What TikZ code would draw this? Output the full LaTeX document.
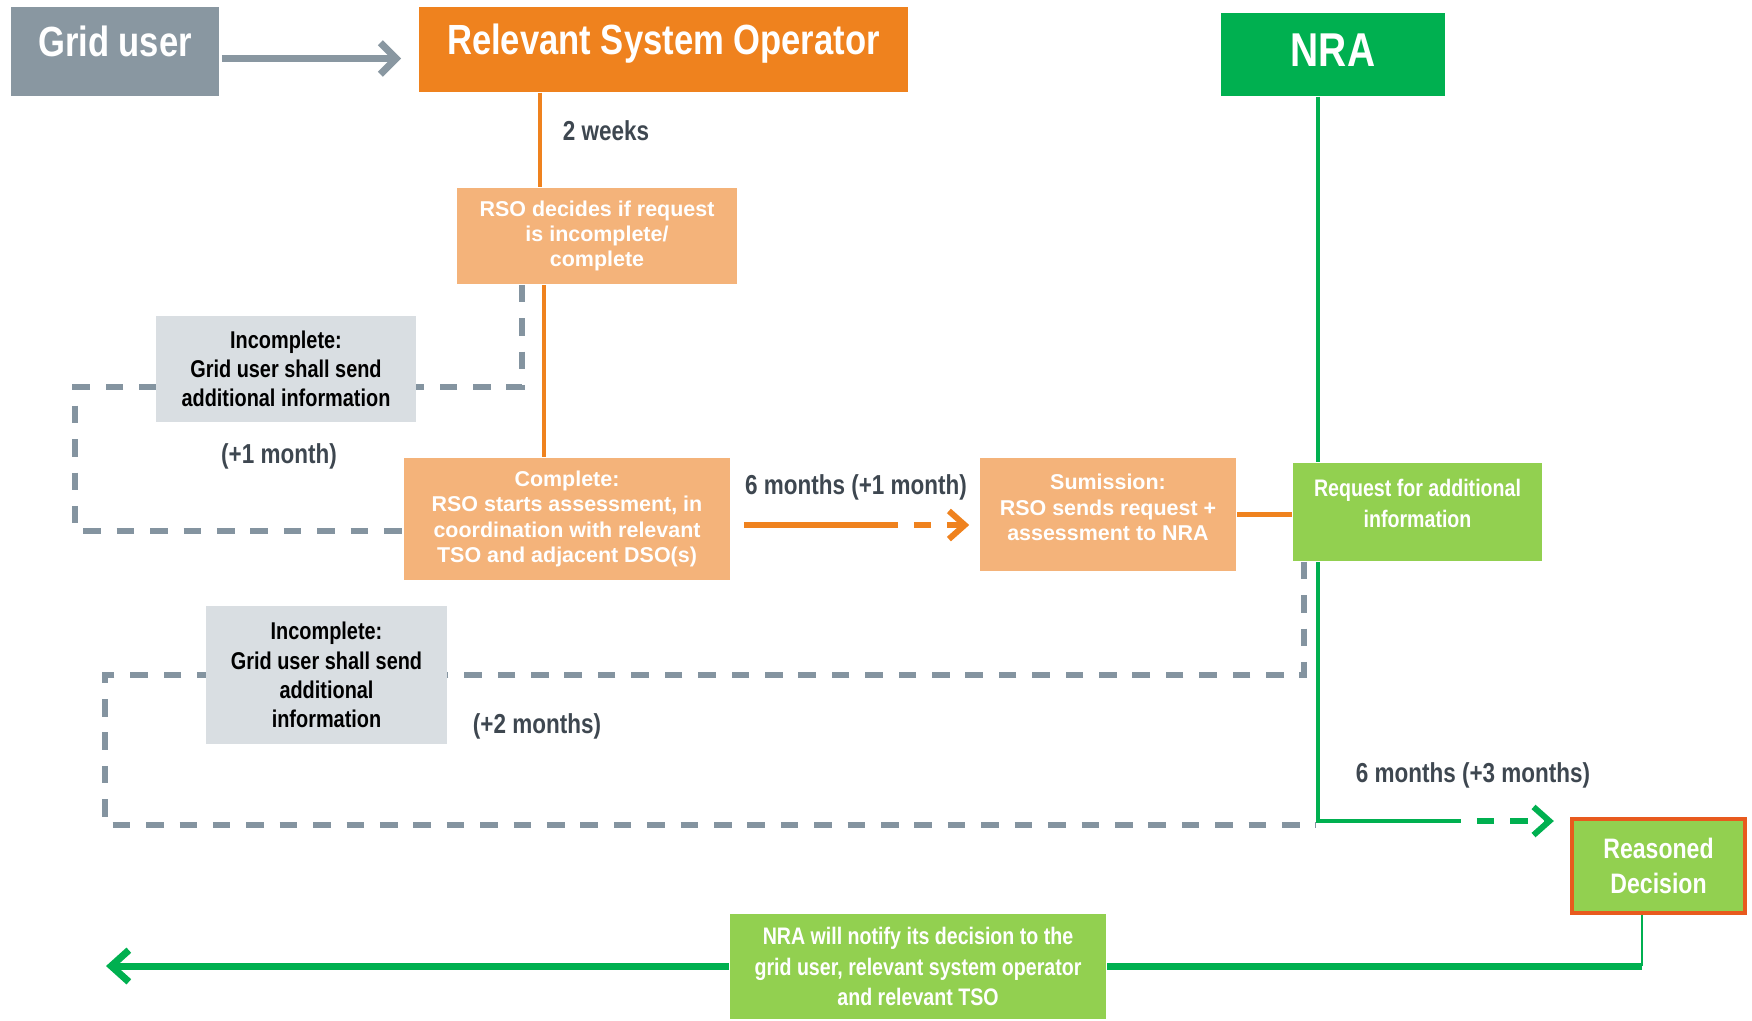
\documentclass[tikz,border=0pt]{standalone}
\usepackage{fontspec}
\setmainfont{Liberation Sans}
\newfontfamily\narrowfont{Liberation Sans}[FakeStretch=0.82]
\usepackage{xcolor}
\usepackage{tikz}
\usetikzlibrary{positioning,calc,arrows.meta,backgrounds}

\definecolor{gridgray}{RGB}{137,151,161}
\definecolor{rsoorange}{RGB}{239,130,30}
\definecolor{nragreen}{RGB}{0,176,80}
\definecolor{lightorange}{RGB}{244,179,122}
\definecolor{lightgreen}{RGB}{146,208,80}
\definecolor{lightgray}{RGB}{217,222,226}
\definecolor{dashgray}{RGB}{132,148,160}
\definecolor{labelgray}{RGB}{62,71,80}
\definecolor{redorange}{RGB}{232,90,30}

% lines of a box set a little above its middle
\newcommand{\liftlines}[2]{\raisebox{#1}[0pt][0pt]{\begin{tabular}{@{}c@{}}#2\end{tabular}}}

\tikzset{
	headbox/.style={inner sep=0pt, text=white, text depth=0.2cm, font=\narrowfont\bfseries\fontsize{12}{14}\selectfont},
	stepbox/.style={inner sep=0pt, fill=lightorange, text=white, align=center, font=\bfseries\fontsize{6.1}{7.2}\selectfont},
	nrabox/.style={inner sep=0pt, fill=lightgreen, text=white, align=center, font=\narrowfont\bfseries\fontsize{6.8}{8.6}\selectfont},
	incbox/.style={inner sep=0pt, fill=lightgray, text=black, align=center, font=\narrowfont\bfseries\fontsize{6.9}{8.3}\selectfont},
	timelabel/.style={text=labelgray, font=\narrowfont\bfseries\fontsize{7.8}{9}\selectfont},
	orangeline/.style={draw=rsoorange, line width=1.2pt},
	greenline/.style={draw=nragreen, line width=1.4pt},
	loopline/.style={draw=dashgray, line width=1.6pt, dash pattern=on 5pt off 4.5pt},
	chevron/.style={-{Straight Barb[length=4.5pt,width=8pt]}}
}

\begin{document}
\begin{tikzpicture}[x=0.01cm,y=-0.01cm]
	\useasboundingbox (0,0) rectangle (1752,1020);
	
	% parties
	\node[headbox, fill=gridgray, minimum width=2.08cm, minimum height=0.89cm] (grid) at (115,51.5) {Grid user};
	\node[headbox, fill=rsoorange, minimum width=4.89cm, minimum height=0.85cm] (rso) at (663.5,49.5) {Relevant System Operator};
	\node[headbox, fill=nragreen, minimum width=2.24cm, minimum height=0.83cm, text depth=0.08cm, font=\narrowfont\bfseries\fontsize{13.5}{16}\selectfont] (nra) at (1333,54.5) {NRA};
	
	% steps
	\node[stepbox, minimum width=2.80cm, minimum height=0.96cm] (decide) at (597,236) {RSO decides if request\\is incomplete/\\complete};
	\node[incbox, minimum width=2.60cm, minimum height=1.06cm] (inc1) at (286,369) {Incomplete:\\Grid user shall send\\additional information};
	\node[stepbox, minimum width=3.26cm, minimum height=1.22cm] (complete) at (567,519) {Complete:\\RSO starts assessment, in\\coordination with relevant\\TSO and adjacent DSO(s)};
	\node[stepbox, minimum width=2.56cm, minimum height=1.13cm] (submit) at (1108,514.5) {\liftlines{-0.01cm}{Sumission:\\RSO sends request +\\assessment to NRA}};
	\node[nrabox, minimum width=2.49cm, minimum height=0.98cm] (request) at (1417.5,512) {\liftlines{0cm}{Request for additional\\information}};
	\node[incbox, minimum width=2.41cm, minimum height=1.38cm] (inc2) at (326.5,675) {Incomplete:\\Grid user shall send\\additional\\information};
	\node[nrabox, draw=redorange, line width=1.2pt, minimum width=1.73cm, minimum height=0.94cm, font=\narrowfont\bfseries\fontsize{8}{10}\selectfont] (decision) at (1658.5,866) {Reasoned\\Decision};
	\node[nrabox, minimum width=3.76cm, minimum height=1.05cm] (notify) at (918,966.5) {NRA will notify its decision to the\\grid user, relevant system operator\\and relevant TSO};
	
	% time labels
	\node[timelabel] (twoweeks) at (606,131) {2 weeks};
	\node[timelabel] (plusone) at (279,456) {(+1 month)};
	\node[timelabel] (sixone) at (856,487) {6 months (+1 month)};
	\node[timelabel] (plustwo) at (537,726) {(+2 months)};
	\node[timelabel] (sixthree) at (1473,775) {6 months (+3 months)};
	
	% grid user to RSO
	\draw[draw=gridgray, line width=2pt, -{Straight Barb[length=4.5pt,width=9pt]}] ($(grid.east)+(2,7)$) -- ($(grid.east -| rso.west)+(-17,7)$);
	
	% RSO track
	\coordinate (oa) at (540,0);
	\coordinate (ob) at (544,0);
	\coordinate (oc) at (898,525);
	\draw[orangeline] (rso.south -| oa) -- (decide.north -| oa);
	\draw[orangeline] (decide.south -| ob) -- (complete.north -| ob);
	\draw[orangeline, line width=1.7pt, shorten <=0.13cm] (complete.east |- oc) -- (oc);
	\draw[orangeline, line width=1.7pt, dash pattern=on 5pt off 4.5pt, dash phase=5pt, chevron, shorten >=0.1cm] (oc) -- (submit.west |- oc);
	\draw[orangeline, line width=1.5pt] (submit.east) -- (submit.east -| request.west);
	
	% incomplete loops
	\coordinate (la) at (522,387);
	\coordinate (lb) at (75,387);
	\coordinate (lc) at (75,531);
	\coordinate (ma) at (1304,675);
	\coordinate (mb) at (105,675);
	\coordinate (mc) at (105,825);
	\coordinate (md) at (1316,825);
	\begin{scope}[on background layer]
		\draw[loopline] (decide.south -| la) -- (la) -- (lb) -- (lc) -- (complete.west |- lc);
		\draw[loopline] (request.south -| ma) -- (ma) -- (mb) -- (mc) -- (md);
	\end{scope}
	
	% NRA track
	\coordinate (ga) at (1318,821);
	\coordinate (gb) at (1461,821);
	\coordinate (gc) at (1642,966);
	\coordinate (gd) at (106,966);
	\draw[greenline] (nra.south -| ga) -- (request.north -| ga);
	\draw[greenline] (request.south -| ga) -- (ga) -- (gb);
	\draw[greenline, line width=1.7pt, dash pattern=on 5pt off 4.5pt, dash phase=5pt, chevron, shorten >=0.16cm] (gb) -- (decision.west |- gb);
	\draw[greenline, line width=0.8pt] (decision.south -| gc) -- (gc);
	\draw[greenline, line width=2pt] (gc) -- (notify.east |- gc);
	\draw[greenline, line width=2pt, -{Straight Barb[length=5pt,width=9pt]}] (notify.west |- gd) -- (gd);
\end{tikzpicture}
\end{document}
